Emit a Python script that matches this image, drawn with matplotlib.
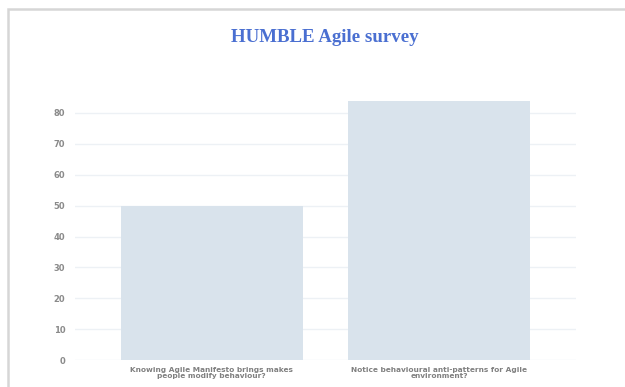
import matplotlib
matplotlib.use("Agg")
import matplotlib.pyplot as plt
from matplotlib.patches import Rectangle

categories = ["Knowing Agile Manifesto brings makes\npeople modify behaviour?",
              "Notice behavioural anti-patterns for Agile\nenvironment?"]
values = [50, 84]
yticks = [0, 10, 20, 30, 40, 50, 60, 70, 80]

fig = plt.figure(figsize=(6.25, 3.87), dpi=100)
fig.patch.set_facecolor("white")

# page frame (shadowed border at top/left)
fig.patches.append(Rectangle((8 / 625, -0.1), 1.1, 1 - 9 / 387 + 0.1, transform=fig.transFigure,
                             fill=False, edgecolor="#d6d6d6", linewidth=1.8, zorder=0))

ymax = 88
px_per_unit = (360 - 113) / 80
ax_h = ymax * px_per_unit / 387
ax = fig.add_axes([75 / 625, 1 - 360 / 387, 501 / 625, ax_h])
x = range(len(categories))
ax.bar(x, values, width=0.8, color="#d9e3ec", zorder=2)
ax.set_xlim(-0.6, 1.6)
ax.set_ylim(0, ymax)
ax.set_yticks(yticks)
ax.set_xticks(list(x))
ax.set_xticklabels(categories, fontsize=5.3, fontweight="bold", color="#808080", linespacing=1.0)
ax.set_yticklabels([str(v) for v in yticks], fontsize=6, fontweight="bold", color="#8a8a8a")
ax.tick_params(axis="both", length=0)
ax.tick_params(axis="y", pad=7)
ax.tick_params(axis="x", pad=5)
ax.grid(axis="y", color="#edf1f5", linewidth=1.0, zorder=1)
for s in ax.spines.values():
    s.set_visible(False)

fig.text(325 / 625, 1 - 37 / 387, "HUMBLE Agile survey", ha="center", va="center",
         fontsize=13.6, fontweight="bold", family="Liberation Serif", color="#4a6fd1")

fig.savefig("out.png", dpi=100)
